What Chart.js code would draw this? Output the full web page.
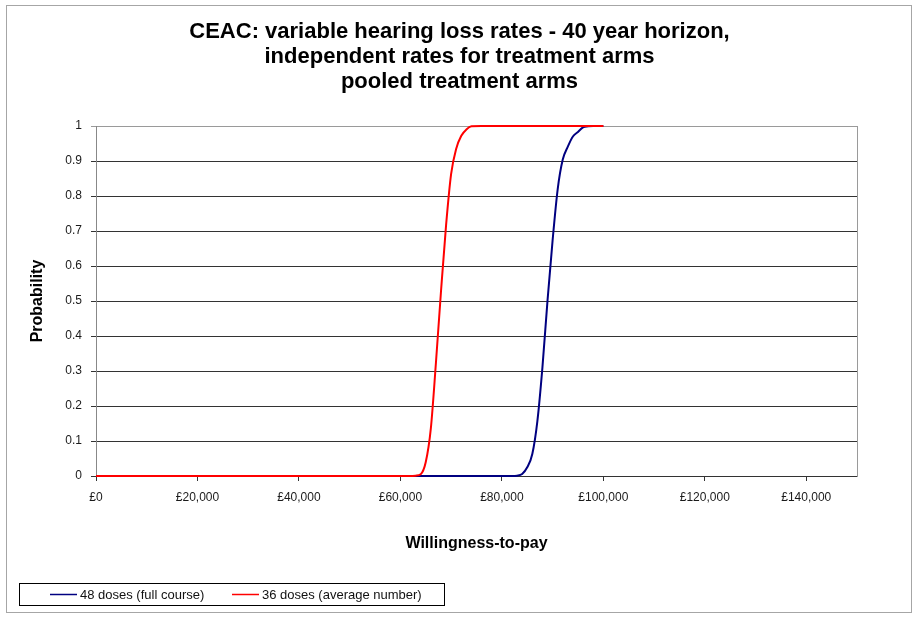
<!DOCTYPE html>
<html>
<head>
<meta charset="utf-8">
<script src="https://cdn.jsdelivr.net/npm/chart.js@4/dist/chart.umd.min.js"></script>
<style>
  html, body { margin: 0; padding: 0; background: #fff; }
  #wrap { width: 914px; height: 617px; }
</style>
</head>
<body>
<div id="wrap"><canvas id="graph" width="914" height="617"></canvas></div>
<script>
// willingness-to-pay thresholds (£)
const wtp = [0, 20000, 40000, 60000, 62000, 63000, 64000, 65000, 66000, 67000, 68000, 69000,
    70000, 71000, 72000, 73000, 74000, 76000, 78000, 80000, 82000, 83000, 84000, 85000,
    86000, 87000, 88000, 89000, 90000, 91000, 92000, 93000, 94000, 95000, 96000, 97000, 98000, 100000];

// probability cost-effective
const fullCourse = [0, 0, 0, 0, 0, 0, 0, 0, 0, 0, 0, 0,
    0, 0, 0, 0, 0, 0, 0, 0, 0, 0.001, 0.006, 0.025,
    0.063, 0.157, 0.311, 0.502, 0.673, 0.819, 0.904, 0.941, 0.970, 0.983, 0.996, 0.999, 1, 1];
const averageNumber = [0, 0, 0, 0, 0, 0.001, 0.005, 0.04, 0.136, 0.323, 0.527, 0.716,
    0.863, 0.935, 0.972, 0.99, 0.999, 1, 1, 1, 1, 1, 1, 1,
    1, 1, 1, 1, 1, 1, 1, 1, 1, 1, 1, 1, 1, 1];

const xTicks = [0, 20000, 40000, 60000, 80000, 100000, 120000, 140000];
const yTicks = [0, 0.1, 0.2, 0.3, 0.4, 0.5, 0.6, 0.7, 0.8, 0.9, 1];

const seriesNames = ['48 doses (full course)', '36 doses (average number)'];
const seriesColors = ['#000080', '#ff0000'];

const titleLines = ['CEAC: variable hearing loss rates - 40 year horizon,',
    'independent rates for treatment arms', 'pooled treatment arms'];

const FONT = "'Liberation Sans', Arial, sans-serif";

const frame = {
    id: 'frame',
    beforeDraw(chart) {
        const c = chart.ctx;
        c.save();
        c.fillStyle = '#fff';
        c.fillRect(0, 0, chart.width, chart.height);
        c.strokeStyle = '#a6a6a6';
        c.lineWidth = 1;
        c.strokeRect(6.5, 5.5, 905, 607);
        c.restore();
    },
    afterDraw(chart) {
        // boxed legend like the Excel one
        const c = chart.ctx;
        c.save();
        c.strokeStyle = '#000';
        c.lineWidth = 1;
        c.strokeRect(19.5, 583.5, 425, 22);
        c.font = '13px ' + FONT;
        c.textBaseline = 'middle';
        const starts = [50, 232];
        chart.data.datasets.forEach(ds => {
            const x = starts[seriesNames.indexOf(ds.label)];
            c.strokeStyle = ds.borderColor;
            c.lineWidth = 1.5;
            c.beginPath();
            c.moveTo(x, 594.5);
            c.lineTo(x + 27, 594.5);
            c.stroke();
            c.fillStyle = '#111';
            c.fillText(ds.label, x + 30, 595);
        });
        c.restore();
    }
};

new Chart(document.getElementById('graph'), {
    type: 'line',
    data: {
        datasets: [
            {
                label: seriesNames[0],
                data: wtp.map((x, i) => ({ x: x, y: fullCourse[i] })),
                borderColor: seriesColors[0],
                borderWidth: 2,
                pointRadius: 0,
                cubicInterpolationMode: 'monotone',
                clip: 3,
                order: 1
            },
            {
                label: seriesNames[1],
                data: wtp.map((x, i) => ({ x: x, y: averageNumber[i] })),
                borderColor: seriesColors[1],
                borderWidth: 2,
                pointRadius: 0,
                cubicInterpolationMode: 'monotone',
                clip: 3,
                order: 0
            }
        ]
    },
    options: {
        responsive: false,
        animation: false,
        layout: { padding: { left: 10, right: 5, top: 0, bottom: 60 } },
        plugins: {
            legend: { display: false },
            tooltip: { enabled: false },
            title: {
                display: true,
                text: titleLines,
                color: '#000',
                font: { family: FONT, size: 22, weight: 'bold', lineHeight: 25 / 22 },
                padding: { top: 19, bottom: 32 }
            }
        },
        scales: {
            x: {
                type: 'linear',
                min: 0,
                max: 150000,
                afterFit: s => { s.height = 81; },
                afterBuildTicks: s => { s.ticks = xTicks.map(v => ({ value: v })); },
                ticks: {
                    maxRotation: 0,
                    autoSkip: false,
                    padding: 9,
                    color: '#1a1a1a',
                    font: { family: FONT, size: 12 },
                    callback: v => '£' + v.toLocaleString('en-GB')
                },
                grid: { drawOnChartArea: false, tickLength: 5, color: '#333' },
                border: { color: '#333' },
                title: {
                    display: true,
                    text: 'Willingness-to-pay',
                    color: '#000',
                    font: { family: FONT, size: 16, weight: 'bold' },
                    padding: { top: 4, bottom: 4 }
                }
            },
            y: {
                min: 0,
                max: 1,
                afterFit: s => { s.width = 86; },
                afterBuildTicks: s => { s.ticks = yTicks.map(v => ({ value: v })); },
                ticks: {
                    padding: 9,
                    color: '#1a1a1a',
                    font: { family: FONT, size: 12 },
                    callback: v => String(v)
                },
                grid: {
                    tickLength: 5,
                    color: ctx => (ctx.tick && ctx.tick.value === 1) ? '#9a9a9a' : '#333'
                },
                border: { color: '#888' },
                title: {
                    display: true,
                    text: 'Probability',
                    color: '#000',
                    font: { family: FONT, size: 16, weight: 'bold' },
                    padding: { top: 18, bottom: 0 }
                }
            },
            // empty right axis: keeps the plot's right margin and draws its grey edge
            yRight: {
                position: 'right',
                min: 0,
                max: 1,
                afterFit: s => { s.width = 52; },
                ticks: { display: false },
                grid: { display: false },
                border: { display: true, color: '#9a9a9a' }
            }
        }
    },
    plugins: [frame]
});
</script>
</body>
</html>
